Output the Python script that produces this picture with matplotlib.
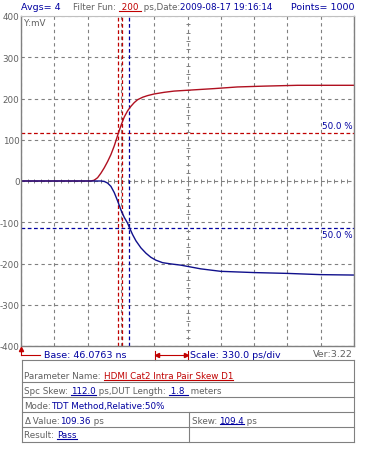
import numpy as np
import matplotlib
matplotlib.use("Agg")
import matplotlib.pyplot as plt
from matplotlib.lines import Line2D

W, H = 365, 460
PS_PER_DIV = 330.0

# traces (time in ps from base, amplitude in mV)
red_t = [0, 693, 726, 759, 792, 825, 858, 891, 924, 957, 990, 1023, 1056, 1089, 1122, 1155,
         1205, 1254, 1320, 1419, 1518, 1650, 1782, 1914, 2145, 2409, 2739, 3300]
red_v = [0, 0, 2, 8, 19, 32, 47, 64, 85, 110, 134, 155, 170, 181, 190, 197,
         203, 207, 211, 215, 218, 220, 222, 224, 228, 230, 232, 232]
blue_t = [0, 792, 825, 858, 891, 924, 957, 990, 1023, 1056, 1073, 1106, 1139, 1188, 1238,
          1287, 1337, 1403, 1485, 1584, 1782, 1980, 2310, 2640, 2970, 3300]
blue_v = [0, 0, -1, -5, -13, -28, -48, -70, -88, -102, -112, -130, -145, -162, -175,
          -185, -192, -198, -201, -204, -213, -219, -222, -224, -227, -228]

red_mark_t = [963, 997]
blue_mark_t = [1073]
red_level = 117
blue_level = -114

yticks = [-400, -300, -200, -100, 0, 100, 200, 300, 400]

GRAY = "#808080"
TXT_GRAY = "#606060"
BLUE = "#0000a0"
RED = "#c00000"
FS = 6.3

fig = plt.figure(figsize=(W / 100, H / 100), dpi=100)
fig.patch.set_facecolor("white")
ax = fig.add_axes([21 / W, 1 - 347 / H, 333 / W, 330 / H])

ax.set_xlim(0, 10 * PS_PER_DIV)
ax.set_ylim(-400, 400)
ax.set_xticks(np.arange(0, 10 * PS_PER_DIV + 1, PS_PER_DIV))
ax.set_xticklabels([])
ax.set_yticks(yticks)
ax.set_yticklabels([str(v) for v in yticks], color=TXT_GRAY, fontsize=FS)
ax.tick_params(length=0, pad=1)
ax.grid(True, color=GRAY, linestyle=(0, (3, 3)), linewidth=0.8)
for s in ["left", "bottom", "right"]:
    ax.spines[s].set_color(GRAY)
    ax.spines[s].set_linewidth(1.0)
ax.spines["top"].set_color("#c0c0c0")

# center cross with small division ticks
minor_x = np.arange(0, 10 * PS_PER_DIV + 1, PS_PER_DIV / 5)
minor_y = np.arange(-400, 401, 20)
ax.plot(minor_x, np.zeros_like(minor_x), ls="none", marker="|", ms=3.5, mew=0.7, color=GRAY)
ax.plot(np.full_like(minor_y, 5 * PS_PER_DIV, dtype=float), minor_y, ls="none", marker="_", ms=3.5, mew=0.7, color=GRAY)

# threshold and crossing markers
ax.axhline(red_level, color=RED, ls=(0, (3, 2)), lw=0.9)
ax.axhline(blue_level, color=BLUE, ls=(0, (3, 2)), lw=0.9)
for t in red_mark_t:
    ax.axvline(t, color=RED, ls=(0, (3, 2)), lw=0.9)
for t in blue_mark_t:
    ax.axvline(t, color=BLUE, ls=(0, (3, 2)), lw=0.9)

ax.plot(red_t, red_v, color="#b01020", lw=1.0)
ax.plot(blue_t, blue_v, color="#10108c", lw=1.0)

ax.text(2983, red_level + 6, "50.0 %", color=BLUE, fontsize=FS, va="bottom", ha="left")
ax.text(2983, blue_level - 4, "50.0 %", color=BLUE, fontsize=FS, va="top", ha="left")
ax.text(0.01, 0.995, "Y:mV", transform=ax.transAxes, color=TXT_GRAY, fontsize=FS, va="top", ha="left")

renderer = fig.canvas.get_renderer()


def seg_text(x_px, y_px, parts, size=FS):
    x = x_px
    for s, color, ul in parts:
        t = fig.text(x / W, 1 - y_px / H, s, color=color, fontsize=size, va="center", ha="left")
        bb = t.get_window_extent(renderer=renderer)
        if ul:
            fig.add_artist(Line2D([bb.x0 / W, bb.x1 / W], [(bb.y0 + 0.5) / H] * 2,
                                  transform=fig.transFigure, color=color, lw=0.8))
        x = bb.x1
    return x


def hline(x0, x1, y, color=GRAY, lw=0.8):
    fig.add_artist(Line2D([x0 / W, x1 / W], [1 - y / H] * 2, transform=fig.transFigure, color=color, lw=lw))


def vline(x, y0, y1, color=GRAY, lw=0.8):
    fig.add_artist(Line2D([x / W] * 2, [1 - y0 / H, 1 - y1 / H], transform=fig.transFigure, color=color, lw=lw))


def marker(x, y, m, color=RED, ms=3):
    fig.add_artist(Line2D([x / W], [1 - y / H], transform=fig.transFigure, marker=m,
                          ms=ms, color=color, ls="none"))


# header
seg_text(21, 8, [("Avgs= 4", BLUE, False)], size=6.8)
seg_text(73, 8, [("Filter Fun: ", TXT_GRAY, False), (" 200 ", RED, True),
                 (" ps,Date:", TXT_GRAY, False), ("2009-08-17 19:16:14", BLUE, False)])
seg_text(291, 8, [("Points= 1000", BLUE, False)], size=6.8)

# base marker and scale bar
vline(21, 349.5, 355.5, RED)
hline(21, 40, 355.5, RED)
marker(21, 350, "^")
seg_text(44, 355.5, [("Base: 46.0763 ns", BLUE, False)], size=6.8)
vline(154.5, 351.5, 360.5, RED)
vline(188.3, 351.5, 360.5, RED)
hline(154.5, 188.3, 355.8, RED)
marker(157, 355.8, "<")
marker(186, 355.8, ">")
seg_text(190.5, 355.5, [("Scale: 330.0 ps/div", BLUE, False)], size=6.8)
seg_text(313, 355, [("Ver:3.22", TXT_GRAY, False)], size=6.8)

# parameter table
tl, tr = 21.7, 354.3
rows = [361, 383.3, 398.3, 413.3, 428.3, 443.3]
for y in rows:
    hline(tl, tr, y)
vline(tl, rows[0], rows[-1])
vline(tr, rows[0], rows[-1])
vline(188.7, rows[3], rows[-1])

seg_text(24.5, 376.5, [("Parameter Name: ", TXT_GRAY, False), ("HDMI Cat2 Intra Pair Skew D1", RED, True)])
seg_text(24.5, 391.5, [("Spc Skew: ", TXT_GRAY, False), ("112.0", BLUE, True),
                       (" ps,DUT Length: ", TXT_GRAY, False), (" 1.8 ", BLUE, True),
                       (" meters", TXT_GRAY, False)])
seg_text(24.5, 406.5, [("Mode:", TXT_GRAY, False), ("TDT Method,Relative:50%", BLUE, False)])
seg_text(24.5, 421, [("Δ", TXT_GRAY, False), (" Value:", TXT_GRAY, False), ("109.36", BLUE, False),
                     (" ps", TXT_GRAY, False)])
seg_text(191.5, 421, [("Skew: ", TXT_GRAY, False), ("109.4", BLUE, True), (" ps", TXT_GRAY, False)])
seg_text(24.5, 436, [("Result: ", TXT_GRAY, False), ("Pass", BLUE, True)])

fig.savefig("out.png", dpi=100)
